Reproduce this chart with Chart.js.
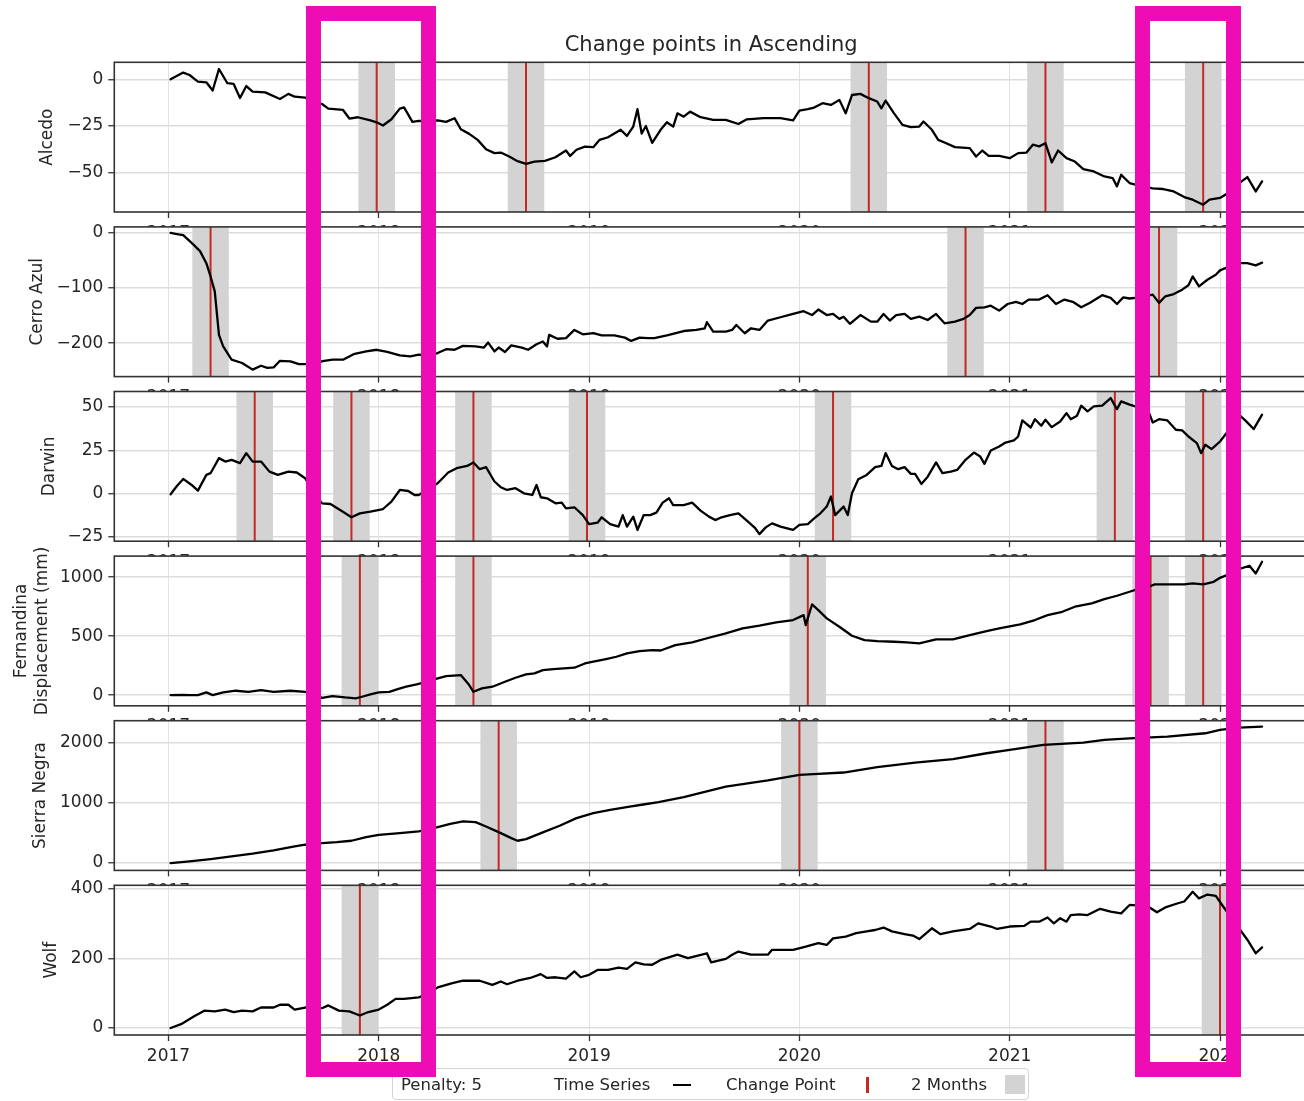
<!DOCTYPE html>
<html>
<head>
<meta charset="utf-8">
<title>Change points in Ascending</title>
<script src="https://cdn.jsdelivr.net/npm/chart.js@4/dist/chart.umd.min.js"></script>
<style>
  html, body { margin: 0; padding: 0; background: #fff; }
  #stage { position: relative; width: 1304px; height: 1101px; overflow: hidden; background: #fff; }
  #stage canvas { position: absolute; left: 0; top: 0; }
  #legend { position: absolute; left: 392px; top: 1068px; width: 637px; height: 32px; box-sizing: border-box;
            border: 1px solid #d4d4d4; border-radius: 4px; background: #fff;
            font-family: 'DejaVu Sans', sans-serif; font-size: 16.5px; color: #262626; }
  #legend span { position: absolute; top: 0; line-height: 31px; white-space: nowrap; }
  #legend i { position: absolute; display: block; }
  .highlight { position: absolute; box-sizing: border-box; border: 15.5px solid #ee0cb5; }
</style>
</head>
<body>
<div id="stage">
  <div id="legend">
    <span style="left:8px">Penalty: 5</span>
    <span style="left:161px">Time Series</span>
    <i style="left:280px; top:15px; width:18px; height:2px; background:#000"></i>
    <span style="left:333px">Change Point</span>
    <i style="left:473px; top:8px; width:3px; height:16px; background:#c42a25"></i>
    <span style="left:518px">2 Months</span>
    <i style="left:612px; top:6px; width:20px; height:19px; background:#d3d3d3"></i>
  </div>
  <div class="highlight" style="left:305.5px; top:6px; width:130.2px; height:1071px"></div>
  <div class="highlight" style="left:1134.5px; top:6px; width:106.3px; height:1071px"></div>
</div>
<script>
// ---- Displacement time series (decimal year, mm) ----
const alcedoYears = [2017.01,2017.07,2017.10,2017.14,2017.18,2017.21,2017.24,2017.28,2017.31,2017.34,2017.37,2017.40,2017.46,2017.53,2017.57,2017.60,2017.65,2017.69,2017.73,2017.76,2017.83,2017.86,2017.90,2017.96,2017.99,2018.02,2018.06,2018.10,2018.12,2018.16,2018.19,2018.24,2018.28,2018.32,2018.36,2018.39,2018.43,2018.47,2018.51,2018.55,2018.58,2018.62,2018.66,2018.70,2018.74,2018.79,2018.84,2018.89,2018.91,2018.94,2018.98,2019.02,2019.05,2019.09,2019.15,2019.18,2019.21,2019.23,2019.25,2019.27,2019.30,2019.34,2019.37,2019.40,2019.42,2019.45,2019.48,2019.53,2019.59,2019.65,2019.71,2019.75,2019.83,2019.91,2019.97,2020.00,2020.04,2020.07,2020.11,2020.15,2020.19,2020.22,2020.25,2020.29,2020.33,2020.37,2020.39,2020.41,2020.45,2020.49,2020.53,2020.57,2020.59,2020.63,2020.66,2020.69,2020.74,2020.81,2020.84,2020.87,2020.90,2020.95,2021.00,2021.04,2021.08,2021.11,2021.14,2021.17,2021.20,2021.23,2021.27,2021.31,2021.35,2021.40,2021.45,2021.49,2021.51,2021.53,2021.57,2021.62,2021.68,2021.73,2021.78,2021.83,2021.87,2021.92,2021.95,2022.00,2022.05,2022.09,2022.13,2022.17,2022.20];
const alcedoMm = [0,3.6,2.3,-1.2,-1.6,-6,5.5,-2.1,-2.5,-10,-3.6,-6.6,-7,-10.5,-7.8,-9.3,-9.8,-11.5,-13.2,-15.7,-16.4,-21,-20.3,-22,-23,-24.7,-21.4,-15.7,-15,-22.8,-22.3,-22.2,-22,-22.8,-20.8,-26.7,-29.2,-32.4,-37.4,-39.5,-39.2,-41.3,-43.8,-45.2,-44,-43.6,-41.7,-38.1,-41,-37.7,-36,-36.3,-32.4,-31,-27,-30.3,-25.3,-16,-29,-25,-34,-27,-23,-25.3,-18.2,-20,-17.3,-20.3,-21.7,-21.7,-23.9,-21.4,-20.8,-20.8,-22,-16.7,-16,-15.1,-12.8,-13.7,-11,-18.2,-8.4,-7.8,-10.1,-11.9,-15.5,-11.4,-18.2,-24.4,-25.6,-25.3,-22.6,-27,-32.4,-33.8,-36.3,-36.8,-41.3,-38.1,-41,-41,-42.2,-39.5,-39.2,-35,-35.9,-34.2,-44.5,-38.1,-42.2,-44,-48.1,-49.3,-52,-52.9,-57.3,-51.1,-55.5,-57,-58.4,-58.7,-60,-63,-64.4,-67.1,-64.4,-63.5,-60,-55.7,-52.3,-60,-54.6];

const cerroAzulYears = [2017.01,2017.04,2017.07,2017.11,2017.15,2017.18,2017.20,2017.22,2017.24,2017.26,2017.30,2017.35,2017.40,2017.44,2017.47,2017.50,2017.53,2017.58,2017.62,2017.65,2017.70,2017.74,2017.78,2017.83,2017.88,2017.94,2017.99,2018.04,2018.10,2018.15,2018.19,2018.24,2018.28,2018.32,2018.36,2018.40,2018.46,2018.50,2018.52,2018.55,2018.57,2018.60,2018.63,2018.68,2018.71,2018.75,2018.78,2018.80,2018.81,2018.85,2018.89,2018.93,2018.97,2019.02,2019.06,2019.12,2019.17,2019.20,2019.24,2019.28,2019.31,2019.37,2019.45,2019.51,2019.55,2019.56,2019.59,2019.65,2019.68,2019.70,2019.74,2019.77,2019.81,2019.85,2019.91,2019.97,2020.02,2020.06,2020.09,2020.13,2020.16,2020.19,2020.21,2020.24,2020.29,2020.34,2020.37,2020.40,2020.43,2020.46,2020.50,2020.53,2020.57,2020.61,2020.65,2020.69,2020.74,2020.78,2020.81,2020.84,2020.88,2020.91,2020.95,2020.99,2021.03,2021.06,2021.09,2021.14,2021.18,2021.22,2021.26,2021.30,2021.34,2021.38,2021.44,2021.48,2021.51,2021.54,2021.57,2021.62,2021.68,2021.71,2021.74,2021.78,2021.82,2021.85,2021.87,2021.90,2021.94,2021.98,2022.00,2022.05,2022.09,2022.13,2022.17,2022.20];
const cerroAzulMm = [0,-2,-4,-18,-33,-55,-79,-106,-185,-206,-230,-236,-248,-241,-245,-244,-232,-233,-238,-238,-236,-232,-230,-230,-220,-215,-212,-216,-222,-224,-221,-222,-218,-211,-212,-205,-206,-208,-199,-215,-208,-216,-204,-208,-212,-202,-197,-206,-185,-192,-191,-176,-184,-182,-186,-186,-190,-196,-190,-191,-191,-186,-178,-176,-173,-162,-179,-179,-176,-167,-182,-173,-176,-159,-153,-147,-142,-149,-139,-149,-147,-156,-152,-165,-149,-161,-161,-147,-159,-149,-147,-156,-152,-158,-147,-164,-161,-156,-149,-136,-135,-132,-141,-129,-125,-129,-121,-121,-113,-129,-121,-125,-135,-127,-113,-118,-129,-117,-119,-117,-112,-127,-115,-111,-103,-95,-79,-97,-85,-76,-68,-60,-55,-55,-59,-54];

const darwinYears = [2017.01,2017.04,2017.07,2017.11,2017.14,2017.18,2017.20,2017.24,2017.27,2017.30,2017.34,2017.37,2017.40,2017.44,2017.48,2017.52,2017.57,2017.61,2017.65,2017.69,2017.73,2017.77,2017.82,2017.87,2017.91,2017.96,2018.02,2018.06,2018.10,2018.14,2018.17,2018.19,2018.24,2018.28,2018.33,2018.37,2018.42,2018.45,2018.48,2018.51,2018.55,2018.58,2018.61,2018.65,2018.69,2018.73,2018.75,2018.77,2018.80,2018.84,2018.87,2018.89,2018.93,2018.97,2019.00,2019.04,2019.06,2019.10,2019.14,2019.16,2019.18,2019.21,2019.23,2019.26,2019.29,2019.32,2019.35,2019.38,2019.40,2019.45,2019.49,2019.53,2019.57,2019.60,2019.63,2019.67,2019.71,2019.75,2019.79,2019.81,2019.84,2019.87,2019.91,2019.97,2020.00,2020.04,2020.07,2020.10,2020.13,2020.15,2020.17,2020.21,2020.23,2020.25,2020.28,2020.32,2020.36,2020.39,2020.41,2020.44,2020.47,2020.50,2020.53,2020.55,2020.58,2020.61,2020.65,2020.68,2020.72,2020.75,2020.79,2020.83,2020.86,2020.88,2020.91,2020.95,2020.98,2021.02,2021.04,2021.06,2021.10,2021.12,2021.15,2021.17,2021.20,2021.24,2021.27,2021.29,2021.32,2021.34,2021.37,2021.40,2021.44,2021.48,2021.51,2021.53,2021.57,2021.62,2021.66,2021.68,2021.71,2021.75,2021.79,2021.82,2021.85,2021.89,2021.91,2021.93,2021.96,2022.00,2022.05,2022.09,2022.12,2022.16,2022.20];
const darwinMm = [-0.4,4.4,8.5,5,1.7,10.8,11.8,20.5,18.5,19.5,17.6,23.4,18.5,18.5,12.7,10.8,12.7,12.2,8.9,0.2,-5.6,-6,-9.8,-13.7,-11.4,-10.4,-8.9,-4.6,2.1,1.5,-0.8,-0.8,3,6,12.2,14.7,16,18,14.1,15.3,7,3.7,2.1,3.1,0.2,-0.8,5,-2.1,-2.7,-5.6,-5.2,-8.5,-7.9,-12.4,-17.6,-16.8,-13.7,-17.6,-19.1,-12.4,-19.1,-13.3,-21,-12.4,-12.4,-11,-5.2,-2.7,-6.6,-6.6,-5.2,-9.8,-13.3,-15.3,-13.7,-12.4,-11.4,-15.6,-20,-23.4,-19.5,-17.2,-19.1,-21,-18.1,-17.6,-14.3,-11.4,-7.5,-1.7,-12.4,-7.5,-12.4,0.2,8.3,10.8,15.3,16,23.4,16,14.1,15.3,11.4,11.4,5.6,9.8,18,11.8,12.7,13.7,19.5,23.7,21.4,17.2,24.9,27.2,29.5,30.7,33,42.3,38.2,43,39.2,42.7,38.4,41.7,46.5,43,45,50.8,47.5,50.4,50.8,55.2,48.8,53.3,51.4,49.5,47.5,41.1,43,42.3,36.9,36.5,33,29.2,23.4,28.2,25.7,30.1,38,45.6,42.3,37.3,45.6];

const fernandinaYears = [2017.01,2017.07,2017.10,2017.14,2017.18,2017.21,2017.26,2017.32,2017.38,2017.44,2017.50,2017.58,2017.65,2017.69,2017.73,2017.78,2017.84,2017.89,2017.92,2017.96,2018.00,2018.05,2018.09,2018.13,2018.18,2018.23,2018.28,2018.32,2018.39,2018.43,2018.45,2018.49,2018.54,2018.60,2018.65,2018.70,2018.74,2018.78,2018.83,2018.88,2018.93,2018.98,2019.02,2019.08,2019.13,2019.18,2019.24,2019.30,2019.34,2019.41,2019.49,2019.57,2019.65,2019.73,2019.81,2019.89,2019.97,2020.02,2020.03,2020.06,2020.09,2020.13,2020.19,2020.25,2020.31,2020.37,2020.45,2020.51,2020.57,2020.65,2020.73,2020.81,2020.89,2020.95,2021.05,2021.12,2021.18,2021.25,2021.31,2021.39,2021.45,2021.51,2021.57,2021.62,2021.66,2021.69,2021.75,2021.83,2021.87,2021.92,2021.97,2022.00,2022.05,2022.09,2022.14,2022.17,2022.20];
const fernandinaMm = [0,2,0,0,23,0,23,37,28,42,28,37,28,5,-23,-8,-20,-28,-14,6,23,28,51,71,90,115,141,161,170,85,28,57,71,113,147,175,184,212,220,226,232,268,283,305,325,353,373,381,378,424,446,486,523,565,588,616,636,678,593,768,720,650,579,503,466,458,452,446,438,472,472,508,542,565,599,636,678,706,749,777,814,842,876,904,918,938,938,938,946,938,960,994,1030,1068,1096,1031,1130];

const sierraNegraYears = [2017.01,2017.10,2017.20,2017.30,2017.40,2017.50,2017.60,2017.65,2017.73,2017.80,2017.87,2017.94,2018.00,2018.10,2018.19,2018.28,2018.34,2018.40,2018.46,2018.51,2018.58,2018.63,2018.66,2018.70,2018.78,2018.86,2018.94,2019.02,2019.10,2019.20,2019.25,2019.33,2019.45,2019.65,2019.85,2020.00,2020.09,2020.21,2020.37,2020.55,2020.73,2020.89,2021.00,2021.16,2021.35,2021.45,2021.57,2021.75,2021.93,2022.00,2022.09,2022.20];
const sierraNegraMm = [0,28,66,110,154,209,276,303,331,347,369,430,468,496,523,595,650,689,678,606,496,413,369,397,507,617,744,827,882,937,965,1010,1091,1267,1367,1460,1477,1499,1587,1664,1719,1818,1873,1956,1994,2039,2066,2094,2149,2204,2242,2259];

const wolfYears = [2017.01,2017.06,2017.12,2017.17,2017.22,2017.27,2017.31,2017.35,2017.40,2017.44,2017.50,2017.53,2017.57,2017.60,2017.65,2017.69,2017.73,2017.76,2017.81,2017.86,2017.91,2017.95,2018.00,2018.04,2018.08,2018.12,2018.19,2018.24,2018.28,2018.35,2018.40,2018.48,2018.54,2018.58,2018.61,2018.66,2018.72,2018.77,2018.80,2018.84,2018.89,2018.93,2018.96,2019.00,2019.04,2019.09,2019.14,2019.18,2019.22,2019.26,2019.30,2019.34,2019.42,2019.47,2019.56,2019.58,2019.65,2019.68,2019.71,2019.77,2019.85,2019.87,2019.97,2020.03,2020.09,2020.13,2020.16,2020.22,2020.27,2020.32,2020.36,2020.40,2020.44,2020.50,2020.54,2020.57,2020.63,2020.67,2020.73,2020.81,2020.85,2020.91,2020.94,2021.00,2021.07,2021.10,2021.14,2021.18,2021.21,2021.24,2021.27,2021.29,2021.33,2021.37,2021.43,2021.48,2021.53,2021.57,2021.62,2021.66,2021.70,2021.74,2021.80,2021.83,2021.87,2021.90,2021.94,2021.98,2022.01,2022.05,2022.09,2022.13,2022.17,2022.20];
const wolfMm = [0,11,33,50,48,53,46,50,48,59,59,67,67,53,59,60,57,65,50,48,36,46,53,67,84,84,88,100,117,129,136,136,124,134,126,136,144,155,144,146,142,163,146,153,167,167,174,170,189,183,182,196,211,201,215,189,199,211,220,211,211,225,225,234,244,239,258,263,273,278,282,289,278,270,266,256,287,270,278,285,301,292,285,292,294,306,306,318,301,316,306,325,327,325,343,335,330,354,352,349,333,347,359,364,392,373,384,380,354,320,287,254,215,232];

// ---- Detected change points (decimal year) ----
const alcedoChangePoints = [2017.99, 2018.70, 2020.33, 2021.17, 2021.92];
const cerroAzulChangePoints = [2017.20, 2020.79, 2021.71];
const darwinChangePoints = [2017.41, 2017.87, 2018.45, 2018.99, 2020.16, 2021.50, 2021.92];
const fernandinaChangePoints = [2017.91, 2018.45, 2020.04, 2021.67, 2021.92];
const sierraNegraChangePoints = [2018.57, 2020.00, 2021.17];
const wolfChangePoints = [2017.91, 2022.00];

// ---- Tick labels ----
const yearTicks = [2017, 2018, 2019, 2020, 2021, 2022];
const alcedoTicks = [-50, -25, 0];
const cerroAzulTicks = [-200, -100, 0];
const darwinTicks = [-25, 0, 25, 50];
const fernandinaTicks = [0, 500, 1000];
const sierraNegraTicks = [0, 1000, 2000];
const wolfTicks = [0, 200, 400];

// ---- Layout and style ----
const CANVAS_W = 1310, CANVAS_H = 1101;
const AXIS_LEFT = 114.3, AXIS_RIGHT = 1308;
const PANEL_TOP0 = 62.3, PANEL_STEP = 164.6, PANEL_H = 149.7;
const X_AXIS_H = 40;
const X_MIN = 2016.7423, X_MAX = 2022.4184;
const BAND_HALF = 0.0868;            // about one month either side
const FONT = 'DejaVu Sans';
const TEXT = '#262626';
const CP_RED = '#c42a25';
const BAND_GREY = '#d3d3d3';

Chart.defaults.font.family = FONT;
Chart.defaults.color = TEXT;

const panels = [
  { title: 'Alcedo', years: alcedoYears, mm: alcedoMm, cps: alcedoChangePoints, ticks: alcedoTicks, min: -71, max: 9.1, labelX: 47.5 },
  { title: 'Cerro Azul', years: cerroAzulYears, mm: cerroAzulMm, cps: cerroAzulChangePoints, ticks: cerroAzulTicks, min: -260.7, max: 10.9, labelX: 37.8 },
  { title: 'Darwin', years: darwinYears, mm: darwinMm, cps: darwinChangePoints, ticks: darwinTicks, min: -27.5, max: 59, labelX: 49.6 },
  { title: ['Fernandina', 'Displacement (mm)'], years: fernandinaYears, mm: fernandinaMm, cps: fernandinaChangePoints, ticks: fernandinaTicks, min: -90.7, max: 1178, labelX: 22 },
  { title: 'Sierra Negra', years: sierraNegraYears, mm: sierraNegraMm, cps: sierraNegraChangePoints, ticks: sierraNegraTicks, min: -122, max: 2357, labelX: 40.3 },
  { title: 'Wolf', years: wolfYears, mm: wolfMm, cps: wolfChangePoints, ticks: wolfTicks, min: -20.1, max: 410.6, labelX: 51.7 }
];

// White axes face, so a lower panel hides the tick labels of the one above it
const axesFace = {
  id: 'axesFace',
  beforeDraw(chart) {
    const { ctx, chartArea: a } = chart;
    ctx.save();
    ctx.fillStyle = '#fff';
    ctx.fillRect(a.left, a.top, a.right - a.left, a.bottom - a.top);
    ctx.restore();
  }
};

// Grey two-month windows and red change-point lines
const changePointMarks = {
  id: 'changePointMarks',
  beforeDatasetsDraw(chart, args, opts) {
    const { ctx, chartArea: a } = chart;
    const xs = chart.scales.x;
    ctx.save();
    ctx.beginPath();
    ctx.rect(a.left, a.top, a.right - a.left, a.bottom - a.top);
    ctx.clip();
    ctx.fillStyle = BAND_GREY;
    for (const cp of opts.points) {
      const l = xs.getPixelForValue(cp - BAND_HALF);
      const r = xs.getPixelForValue(cp + BAND_HALF);
      ctx.fillRect(l, a.top, r - l, a.bottom - a.top);
    }
    ctx.strokeStyle = CP_RED;
    ctx.lineWidth = 2;
    for (const cp of opts.points) {
      const x = xs.getPixelForValue(cp);
      ctx.beginPath();
      ctx.moveTo(x, a.top);
      ctx.lineTo(x, a.bottom);
      ctx.stroke();
    }
    ctx.restore();
  }
};

// Axes spines
const axesFrame = {
  id: 'axesFrame',
  afterDatasetsDraw(chart) {
    const { ctx, chartArea: a } = chart;
    ctx.save();
    ctx.strokeStyle = '#333';
    ctx.lineWidth = 1.6;
    ctx.strokeRect(a.left, a.top, a.right - a.left, a.bottom - a.top);
    ctx.restore();
  }
};

const fmt = v => (v < 0 ? '\u2212' + Math.abs(v) : String(v));
const stage = document.getElementById('stage');
const legendEl = document.getElementById('legend');

panels.forEach((p, i) => {
  const top = PANEL_TOP0 + PANEL_STEP * i;
  const bottom = top + PANEL_H;
  const canvas = document.createElement('canvas');
  canvas.width = CANVAS_W;
  canvas.height = CANVAS_H;
  canvas.style.width = CANVAS_W + 'px';
  canvas.style.height = CANVAS_H + 'px';
  stage.insertBefore(canvas, legendEl);

  const isFirst = i === 0;
  const titleFont = 21;
  const titleTopPad = 13;
  const padTop = isFirst ? top - (titleTopPad + titleFont * 1.2 + 4.1) : top;

  new Chart(canvas, {
    type: 'line',
    data: {
      datasets: [{
        data: p.years.map((x, k) => ({ x, y: p.mm[k] })),
        borderColor: '#000',
        borderWidth: 2.3,
        pointRadius: 0,
        tension: 0,
        fill: false,
        borderJoinStyle: 'round',
        borderCapStyle: 'round'
      }]
    },
    options: {
      responsive: false,
      animation: false,
      events: [],
      layout: { padding: { top: padTop, bottom: CANVAS_H - bottom - X_AXIS_H, left: 0, right: CANVAS_W - AXIS_RIGHT } },
      plugins: {
        legend: { display: false },
        tooltip: { enabled: false },
        title: isFirst ? {
          display: true,
          text: 'Change points in Ascending',
          fullSize: false,
          color: TEXT,
          font: { family: FONT, size: titleFont, weight: 'normal' },
          padding: { top: titleTopPad, bottom: 4.1 }
        } : { display: false },
        changePointMarks: { points: p.cps }
      },
      scales: {
        x: {
          type: 'linear',
          min: X_MIN,
          max: X_MAX,
          afterBuildTicks: s => { s.ticks = yearTicks.map(v => ({ value: v })); },
          afterFit: s => { s.height = X_AXIS_H; },
          border: { display: false },
          grid: { color: '#e2e2e2', lineWidth: 1, tickColor: '#333', tickLength: 6, tickWidth: 1.3 },
          ticks: { callback: v => String(v), maxRotation: 0, autoSkip: false, padding: 5, color: TEXT, font: { size: 17 } }
        },
        y: {
          type: 'linear',
          min: p.min,
          max: p.max,
          afterBuildTicks: s => { s.ticks = p.ticks.map(v => ({ value: v })); },
          afterFit: s => { s.width = AXIS_LEFT; },
          border: { display: false },
          grid: { color: '#dddddd', lineWidth: 1.5, tickColor: '#333', tickLength: 6, tickWidth: 1.3 },
          ticks: { callback: fmt, padding: 5, color: TEXT, font: { size: 17 } },
          title: {
            display: true,
            text: p.title,
            color: TEXT,
            font: { family: FONT, size: 17 },
            padding: { top: p.labelX - 17 * 1.2 / 2, bottom: 0 }
          }
        }
      }
    },
    plugins: [axesFace, changePointMarks, axesFrame]
  });
});
</script>
</body>
</html>
